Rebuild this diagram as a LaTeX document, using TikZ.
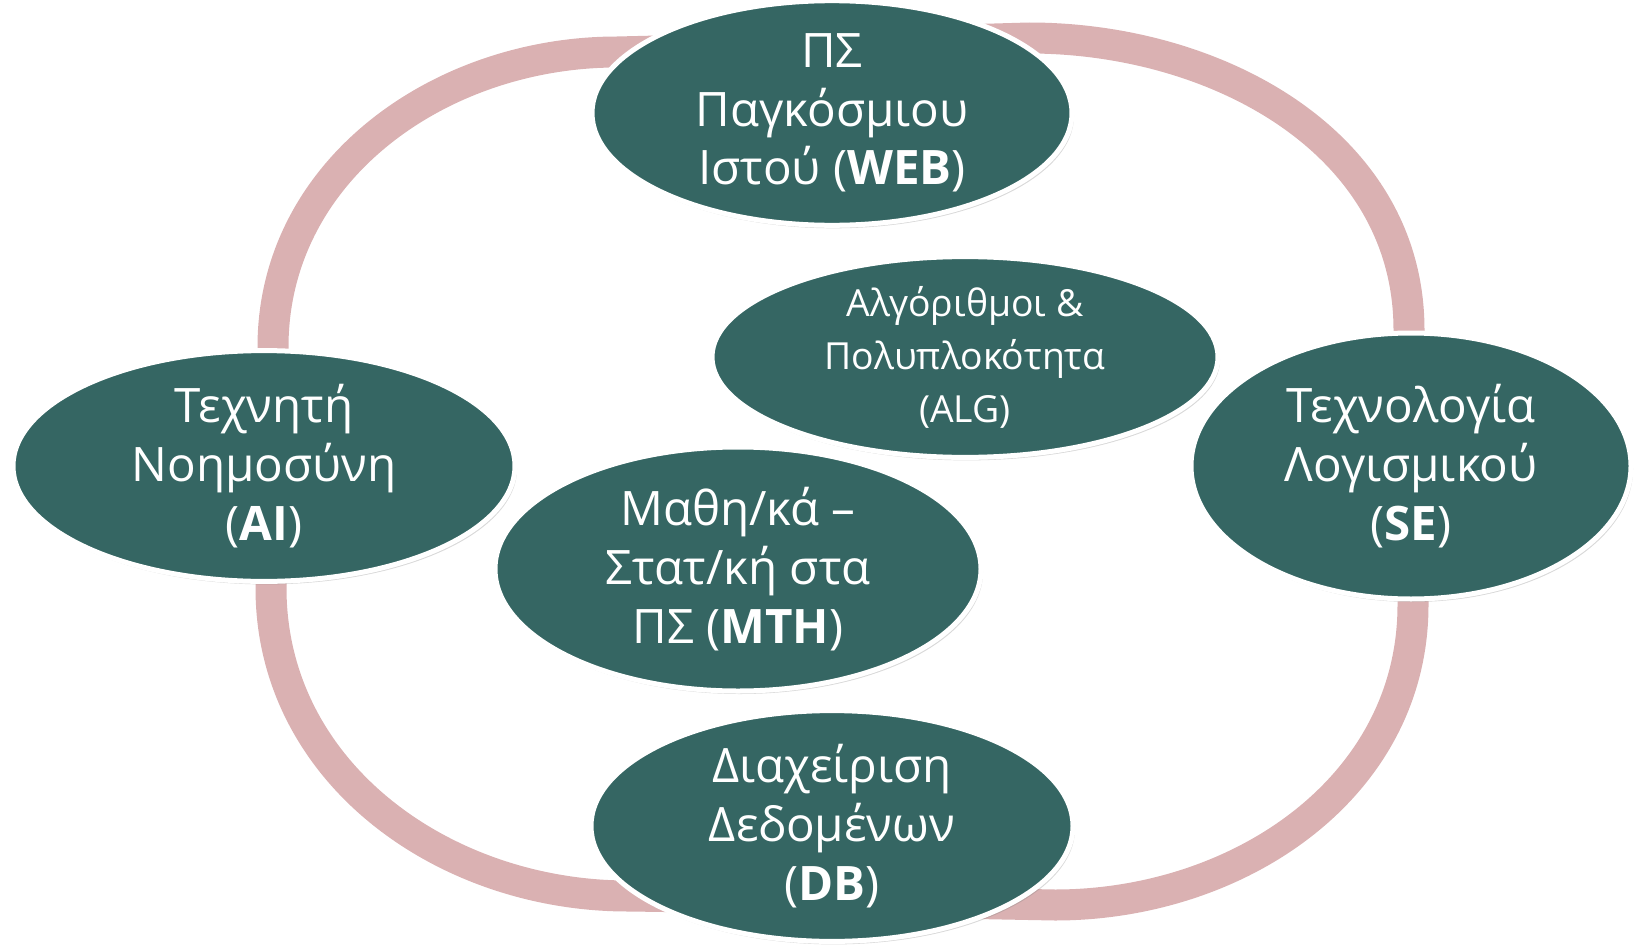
\documentclass[tikz,border=0pt]{standalone}
\usepackage{fontspec}
\setmainfont{Open Sans}
\usetikzlibrary{shapes.geometric,shadows,backgrounds}
\definecolor{teal}{RGB}{53,102,99}
\definecolor{rose}{RGB}{218,177,178}

\begin{document}
\begin{tikzpicture}[x=1pt,y=-1pt,
  topic/.style={shape=ellipse,fill=teal,draw=white,line width=5,text=white,
    inner sep=0,align=center,font=\fontsize{47.5}{58.7}\selectfont,
    drop shadow={shadow xshift=2pt,shadow yshift=-3pt,opacity=0.3}},
  ring/.style={draw=rose,line width=31,line join=round}]
\useasboundingbox (0,0) rectangle (1639,950);

\node[topic,minimum width=480,minimum height=218] (web) at (832,113) {ΠΣ\\Παγκόσμιου\\Ιστού (\textbf{WEB})};
\node[topic,minimum width=506,minimum height=164,font=\fontsize{37.3}{53}\selectfont] (alg) at (965,357) {Αλγόριθμοι \&\\Πολυπλοκότητα\\(ALG)};
\node[topic,minimum width=502,minimum height=228] (ai) at (264,466) {Τεχνητή\\Νοημοσύνη\\(\textbf{AI})};
\node[topic,minimum width=440,minimum height=266] (se) at (1411,466) {Τεχνολογία\\Λογισμικού\\(\textbf{SE})};
\node[topic,minimum width=486,minimum height=244] (mth) at (738,569) {Μαθη/κά –\\Στατ/κή στα\\ΠΣ (\textbf{MTH})};
\node[topic,minimum width=482,minimum height=230] (db) at (832,826) {Διαχείριση\\Δεδομένων\\(\textbf{DB})};

% ring behind the topics
\begin{scope}[on background layer]
\draw[ring] (ai.center) -- (273,400) -- (273,347) to[out=90,in=180] (617,52) -- (700,50) -- (web.center);
\draw[ring] (web.center) -- (960,40) -- (1029,38) to[out=0,in=90] (1409,330) -- (1409,380) -- (se.center);
\draw[ring] (se.center) -- (1413,560) -- (1413,605) to[out=270,in=0] (1055,905) -- (950,903) -- (db.center);
\draw[ring] (db.center) -- (700,897) -- (628,896) to[out=180,in=270] (271,588) -- (271,540) -- (ai.center);
\end{scope}
\end{tikzpicture}
\end{document}
